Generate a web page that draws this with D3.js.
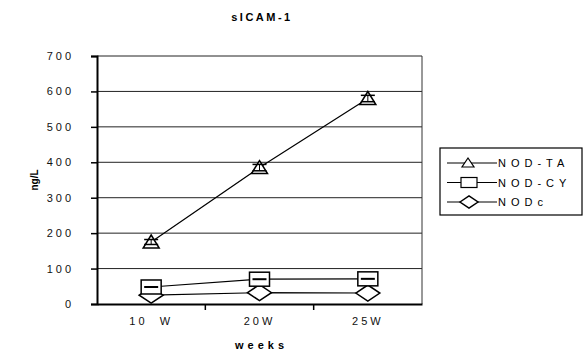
<!DOCTYPE html>
<html>
<head>
<meta charset="utf-8">
<script src="https://cdn.jsdelivr.net/npm/d3@7"></script>
<style>
  body { margin: 0; background: #fff; }
  svg { display: block; font-family: "Liberation Sans", Arial, sans-serif; }
  .tick text { font-size: 11px; letter-spacing: 3px; fill: #111; }
</style>
</head>
<body>
<svg id="chart" width="584" height="353"></svg>
<script>
// sICAM-1 serum levels by week, three mouse groups
const weeks = ["10  W", "20W", "25W"];
const yTicks = [0, 100, 200, 300, 400, 500, 600, 700];
const seriesNames = ["NOD-TA", "NOD-CY", "NODc"];
const nodTA = [175, 385, 580];
const nodCY = [48, 70, 71];
const nodC = [25, 32, 31];
const errTA = [7, 9, 9];          // error-bar half-widths (only visible on TA)

const svg = d3.select("#chart");
const margin = { top: 56, right: 162, bottom: 49, left: 97 };
const W = 584, H = 353;

const x = d3.scaleBand().domain(weeks).range([margin.left, W - margin.right]);
const y = d3.scaleLinear().domain([0, 700]).range([H - margin.bottom, margin.top]);

// gridlines
svg.append("g").selectAll("line").data(yTicks.slice(1)).join("line")
  .attr("x1", margin.left).attr("x2", W - margin.right)
  .attr("y1", d => y(d)).attr("y2", d => y(d))
  .attr("stroke", "#222").attr("stroke-width", 1);
// right border
svg.append("line").attr("x1", W - margin.right).attr("x2", W - margin.right)
  .attr("y1", y(700)).attr("y2", y(0)).attr("stroke", "#333");

// axes
const yAxis = svg.append("g").attr("transform", `translate(${margin.left},0)`)
  .call(d3.axisLeft(y).tickValues(yTicks).tickSize(6).tickPadding(17));
const xAxis = svg.append("g").attr("transform", `translate(0,${y(0)})`)
  .call(d3.axisBottom(x).tickSize(0).tickPadding(13));
// x axis tick marks at band boundaries
svg.append("g").selectAll("line").data(weeks.slice(1)).join("line")
  .attr("x1", d => x(d)).attr("x2", d => x(d))
  .attr("y1", y(0)).attr("y2", y(0) + 6).attr("stroke", "#000").attr("stroke-width", 1.5);
[yAxis, xAxis].forEach(g => {
  g.select(".domain").attr("stroke", "#000").attr("stroke-width", 2);
  g.selectAll(".tick line").attr("stroke", "#000").attr("stroke-width", 1.5);
});
xAxis.selectAll(".tick text").style("white-space", "pre");

// titles
svg.append("text").attr("x", 262).attr("y", 21).attr("text-anchor", "middle")
  .style("font-size", "11px").style("font-weight", "bold").style("letter-spacing", "2.5px")
  .text("sICAM-1");
svg.append("text").attr("x", (margin.left + W - margin.right) / 2 + 2).attr("y", 349)
  .attr("text-anchor", "middle").style("font-size", "11px").style("font-weight", "bold")
  .style("letter-spacing", "4px").text("weeks");
svg.append("text").attr("transform", `translate(38,180) rotate(-90)`)
  .attr("text-anchor", "middle").style("font-size", "10px").style("font-weight", "bold")
  .text("ng/L");

const cx = d => x(d) + x.bandwidth() / 2;

// marker shapes
function diamond(g, px, py) {
  g.append("path").attr("d", `M${px - 12},${py} L${px},${py - 8} L${px + 12},${py} L${px},${py + 8} Z`)
    .attr("fill", "#fff").attr("stroke", "#000").attr("stroke-width", 1.5);
}
function square(g, px, py) {
  g.append("rect").attr("x", px - 10).attr("y", py - 7).attr("width", 20).attr("height", 14)
    .attr("fill", "#fff").attr("stroke", "#000").attr("stroke-width", 1.5);
  g.append("line").attr("x1", px - 7).attr("x2", px + 7).attr("y1", py).attr("y2", py)
    .attr("stroke", "#000").attr("stroke-width", 2);
}
function triangle(g, px, py) {
  g.append("path").attr("d", `M${px},${py - 7} L${px + 8},${py + 6} L${px - 8},${py + 6} Z`)
    .attr("fill", "#fff").attr("stroke", "#000").attr("stroke-width", 1.5);
}

const line = d3.line().x((d, i) => cx(weeks[i])).y(d => y(d));
const plot = svg.append("g");
[nodTA, nodCY, nodC].forEach(s => {
  plot.append("path").datum(s).attr("d", line).attr("fill", "none")
    .attr("stroke", "#000").attr("stroke-width", 1.2);
});

nodC.forEach((v, i) => diamond(plot, cx(weeks[i]), y(v)));
nodCY.forEach((v, i) => square(plot, cx(weeks[i]), y(v)));
nodTA.forEach((v, i) => {
  const px = cx(weeks[i]);
  triangle(plot, px, y(v));
  plot.append("line").attr("x1", px).attr("x2", px)
    .attr("y1", y(v + errTA[i])).attr("y2", y(v - errTA[i])).attr("stroke", "#000");
  [v + errTA[i], v - errTA[i]].forEach(e =>
    plot.append("line").attr("x1", px - 7).attr("x2", px + 7)
      .attr("y1", y(e)).attr("y2", y(e)).attr("stroke", "#000").attr("stroke-width", 1.5));
});

// legend
const lg = svg.append("g");
lg.append("rect").attr("x", 440).attr("y", 148).attr("width", 142).attr("height", 67)
  .attr("fill", "#fff").attr("stroke", "#000").attr("stroke-width", 1.2);
const markers = [null, (g, px, py) => {
  g.append("rect").attr("x", px - 8).attr("y", py - 5).attr("width", 16).attr("height", 10)
    .attr("fill", "#fff").attr("stroke", "#000").attr("stroke-width", 1.2);
}, (g, px, py) => {
  g.append("path").attr("d", `M${px - 9},${py} L${px},${py - 6} L${px + 9},${py} L${px},${py + 6} Z`)
    .attr("fill", "#fff").attr("stroke", "#000").attr("stroke-width", 1.5);
}];
seriesNames.forEach((name, i) => {
  const ly = 163 + i * 19.5;
  lg.append("line").attr("x1", 447).attr("x2", 497).attr("y1", ly).attr("y2", ly)
    .attr("stroke", "#000").attr("stroke-width", 1.2);
  if (i === 0) {
    lg.append("path").attr("d", `M468,${ly - 5} L474,${ly + 4} L462,${ly + 4} Z`)
      .attr("fill", "#fff").attr("stroke", "#000").attr("stroke-width", 1.2);
  } else markers[i](lg, 469, ly);
  lg.append("text").attr("x", 498).attr("y", ly + 4).style("font-size", "11px")
    .style("letter-spacing", "5px").text(name);
});
</script>
</body>
</html>
